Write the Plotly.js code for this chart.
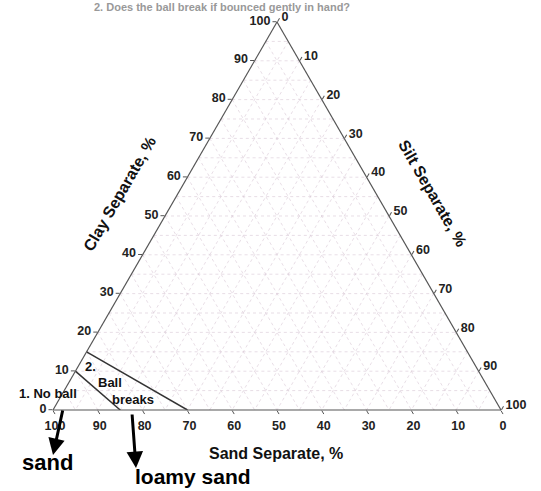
<!DOCTYPE html>
<html>
<head>
<meta charset="utf-8">
<script src="https://cdn.plot.ly/plotly-3.0.1.min.js"></script>
<style>html,body{margin:0;padding:0;background:#fff;}#chart{width:541px;height:491px;}</style>
</head>
<body>
<div id="chart"></div>
<script>
// Boundary lines (clay, sand, silt in %)
const noBallClay = [10, 0];
const noBallSand = [90, 85];
const noBallSilt = [0, 15];

const ballBreaksClay = [15, 0];
const ballBreaksSand = [85, 70];
const ballBreaksSilt = [0, 30];

// Axis tick values and grid spacing
const tickValues = [0, 10, 20, 30, 40, 50, 60, 70, 80, 90, 100];
const gridStep = 5;

// Texts
const titleText = "2. Does the ball break if bounced gently in hand?";
const clayTitle = "Clay Separate, %";
const siltTitle = "Silt Separate, %";
const sandTitle = "Sand Separate, %";

const W = 541, H = 491;
const px = x => x / W;
const py = y => 1 - y / H;

// gridlines (every 5 %) as dotted lines
const ga = [], gb = [], gc = [];
for (let v = gridStep; v < 100; v += gridStep) {
  ga.push(v, v, null); gb.push(100 - v, 0, null); gc.push(0, 100 - v, null);
  gb.push(v, v, null); ga.push(100 - v, 0, null); gc.push(0, 100 - v, null);
  gc.push(v, v, null); ga.push(100 - v, 0, null); gb.push(0, 100 - v, null);
}

const FONT = 'Liberation Sans, Arial, sans-serif';

const traces = [
  {type: 'scatterternary', mode: 'lines', a: ga, b: gb, c: gc,
   line: {color: 'rgba(220,205,216,0.65)', width: 1, dash: 'dot'},
   hoverinfo: 'skip', connectgaps: false, showlegend: false},
  {type: 'scatterternary', mode: 'lines', a: noBallClay, b: noBallSand, c: noBallSilt,
   line: {color: '#333', width: 1.5}, showlegend: false},
  {type: 'scatterternary', mode: 'lines', a: ballBreaksClay, b: ballBreaksSand, c: ballBreaksSilt,
   line: {color: '#333', width: 1.5}, showlegend: false}
];

function axis() {
  return {
    title: {text: ''}, min: 0,
    tickmode: 'array', tickvals: tickValues, ticktext: tickValues.map(String),
    ticks: 'outside', ticklen: 4, tickcolor: '#555', tickwidth: 1,
    linecolor: '#555', linewidth: 1.2, showline: true, showgrid: false,
    tickfont: {family: FONT, size: 12.5, color: '#222', weight: 'bold'}
  };
}

function note(text, x, y, size, color, angle) {
  return {text: text, xref: 'paper', yref: 'paper', x: px(x), y: py(y),
    xanchor: 'center', yanchor: 'middle', textangle: angle || 0,
    showarrow: false, font: {family: FONT, size: size, color: color, weight: 'bold'}};
}

function arrow(hx, hy, ax, ay) {
  return {text: '', xref: 'paper', yref: 'paper', x: px(hx), y: py(hy), ax: ax, ay: ay,
    showarrow: true, arrowhead: 2, arrowsize: 1.1, arrowwidth: 3, arrowcolor: '#000'};
}

const layout = {
  width: W, height: H,
  margin: {l: 0, r: 0, t: 0, b: 0},
  paper_bgcolor: '#fff',
  showlegend: false,
  ternary: {
    sum: 100,
    domain: {x: [px(53), px(501)], y: [py(410), py(22)]},
    bgcolor: '#fff',
    aaxis: axis(), baxis: axis(), caxis: axis()
  },
  annotations: [
    note(titleText, 222, 7, 11, '#999'),
    note(clayTitle, 119, 194, 16, '#111', -60),
    note(siltTitle, 433, 193, 16, '#111', 60),
    note(sandTitle, 276, 453, 16, '#111'),
    note('1. No ball', 48, 393, 13, '#111'),
    note('2.', 90, 366, 13, '#111'),
    note('Ball', 110, 382, 13, '#111'),
    note('breaks', 133, 399, 13, '#111'),
    arrow(53, 455, 10, -46),
    arrow(136, 468, -4, -55),
    note('sand', 47, 462, 22, '#000'),
    note('loamy sand', 193, 476, 21, '#000')
  ]
};

Plotly.newPlot('chart', traces, layout, {displayModeBar: false, staticPlot: true});
</script>
</body>
</html>
